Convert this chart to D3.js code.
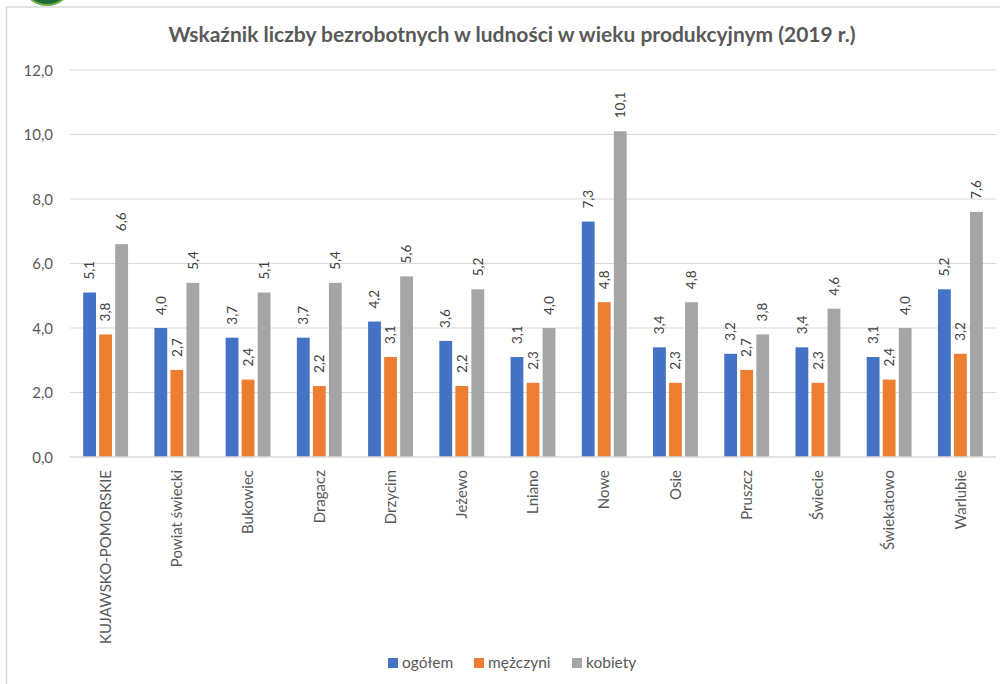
<!DOCTYPE html>
<html>
<head>
<meta charset="utf-8">
<script src="https://cdn.jsdelivr.net/npm/d3@7"></script>
<style>
  html, body { margin: 0; padding: 0; background: #fff; }
  svg { display: block; }
  text { font-family: Lato, "Open Sans", sans-serif; }
</style>
</head>
<body>
<svg id="chart" width="1000" height="684"></svg>
<script>
const title = "Wskaźnik liczby bezrobotnych w ludności w wieku produkcyjnym (2019 r.)";
const categories = ["KUJAWSKO-POMORSKIE", "Powiat świecki", "Bukowiec", "Dragacz", "Drzycim", "Jeżewo", "Lniano", "Nowe", "Osie", "Pruszcz", "Świecie", "Świekatowo", "Warlubie"];
const seriesNames = ["ogółem", "mężczyni", "kobiety"];
const ogolem   = [5.1, 4.0, 3.7, 3.7, 4.2, 3.6, 3.1, 7.3, 3.4, 3.2, 3.4, 3.1, 5.2];
const mezczyni = [3.8, 2.7, 2.4, 2.2, 3.1, 2.2, 2.3, 4.8, 2.3, 2.7, 2.3, 2.4, 3.2];
const kobiety  = [6.6, 5.4, 5.1, 5.4, 5.6, 5.2, 4.0, 10.1, 4.8, 3.8, 4.6, 4.0, 7.6];
const yTicks = [0, 2, 4, 6, 8, 10, 12];
const colors = ["#4472c4", "#ed7d31", "#a5a5a5"];

(function () {
const seriesValues = [ogolem, mezczyni, kobiety];
const svg = d3.select("#chart");
const fmt = v => d3.format(".1f")(v).replace(".", ",");

// frame and logo
svg.append("circle").attr("cx", 47).attr("cy", -20).attr("r", 25)
  .attr("fill", "#1d6b35").attr("stroke", "#6fae4a").attr("stroke-width", 2);
svg.append("path").attr("d", "M6.5,684 V7 H1000")
  .attr("fill", "none").attr("stroke", "#d9d9d9").attr("stroke-width", 1.5);

const pLeft = 70, pRight = 996, pTop = 70, pBottom = 457;
const x0 = d3.scaleBand().domain(categories).range([pLeft, pRight]).paddingInner(0.37).paddingOuter(0.185);
const x1 = d3.scaleBand().domain(seriesNames).range([0, x0.bandwidth()]).paddingInner(0.2);
const y = d3.scaleLinear().domain([0, 12]).range([pBottom, pTop]);

// gridlines
svg.append("g").selectAll("line").data(yTicks.filter(t => t > 0)).join("line")
  .attr("x1", pLeft).attr("x2", pRight)
  .attr("y1", d => y(d)).attr("y2", d => y(d))
  .attr("stroke", "#d9d9d9").attr("stroke-width", 1);

// y axis labels
const yAxis = d3.axisLeft(y).tickValues(yTicks).tickFormat(fmt).tickSize(0).tickPadding(0);
const gy = svg.append("g").attr("transform", `translate(53,0)`).call(yAxis);
gy.select(".domain").remove();
gy.selectAll("text").attr("fill", "#595959").attr("font-size", 15)
  .attr("font-family", "Lato, sans-serif").attr("dy", "0.35em");

// bars
const groups = svg.append("g").selectAll("g").data(categories).join("g")
  .attr("transform", d => `translate(${x0(d)},0)`);
groups.selectAll("rect").data((d, i) => seriesNames.map((s, k) => ({s, k, v: seriesValues[k][i]})))
  .join("rect")
  .attr("x", d => x1(d.s)).attr("width", x1.bandwidth())
  .attr("y", d => y(d.v)).attr("height", d => y(0) - y(d.v))
  .attr("fill", d => colors[d.k]);

// value labels
groups.selectAll("text.val").data((d, i) => seriesNames.map((s, k) => ({s, k, v: seriesValues[k][i]})))
  .join("text").attr("class", "val")
  .attr("transform", d => `translate(${x1(d.s) + x1.bandwidth() / 2},${y(d.v) - 13}) rotate(-90)`)
  .attr("dy", "0.35em")
  .attr("text-anchor", "start")
  .attr("font-size", 13.5).attr("fill", "#404040")
  .text(d => fmt(d.v));

// baseline
svg.append("line").attr("x1", pLeft).attr("x2", pRight).attr("y1", pBottom).attr("y2", pBottom)
  .attr("stroke", "#d9d9d9").attr("stroke-width", 1.5);

// category labels
const xAxis = d3.axisBottom(x0).tickSize(0).tickPadding(0);
const gx = svg.append("g").attr("transform", `translate(0,${pBottom})`).call(xAxis);
gx.select(".domain").remove();
gx.selectAll("text")
  .attr("transform", "translate(0,13) rotate(-90)")
  .attr("x", 0).attr("y", 0).attr("dy", "0.35em")
  .attr("text-anchor", "end")
  .attr("fill", "#595959").attr("font-size", 15)
  .attr("font-family", "Lato, sans-serif");

// title
svg.append("text").attr("x", 512).attr("y", 42).attr("text-anchor", "middle")
  .attr("font-size", 21).attr("font-weight", "bold").attr("fill", "#595959")
  .text(title);

// legend
const legendX = [388, 474, 572];
const lg = svg.append("g").selectAll("g").data(seriesNames).join("g")
  .attr("transform", (d, i) => `translate(${legendX[i]},658)`);
lg.append("rect").attr("width", 10).attr("height", 10).attr("fill", (d, i) => colors[i]);
lg.append("text").attr("x", 14).attr("y", 10).attr("font-size", 15.5).attr("fill", "#595959").text(d => d);
})();
</script>
</body>
</html>
